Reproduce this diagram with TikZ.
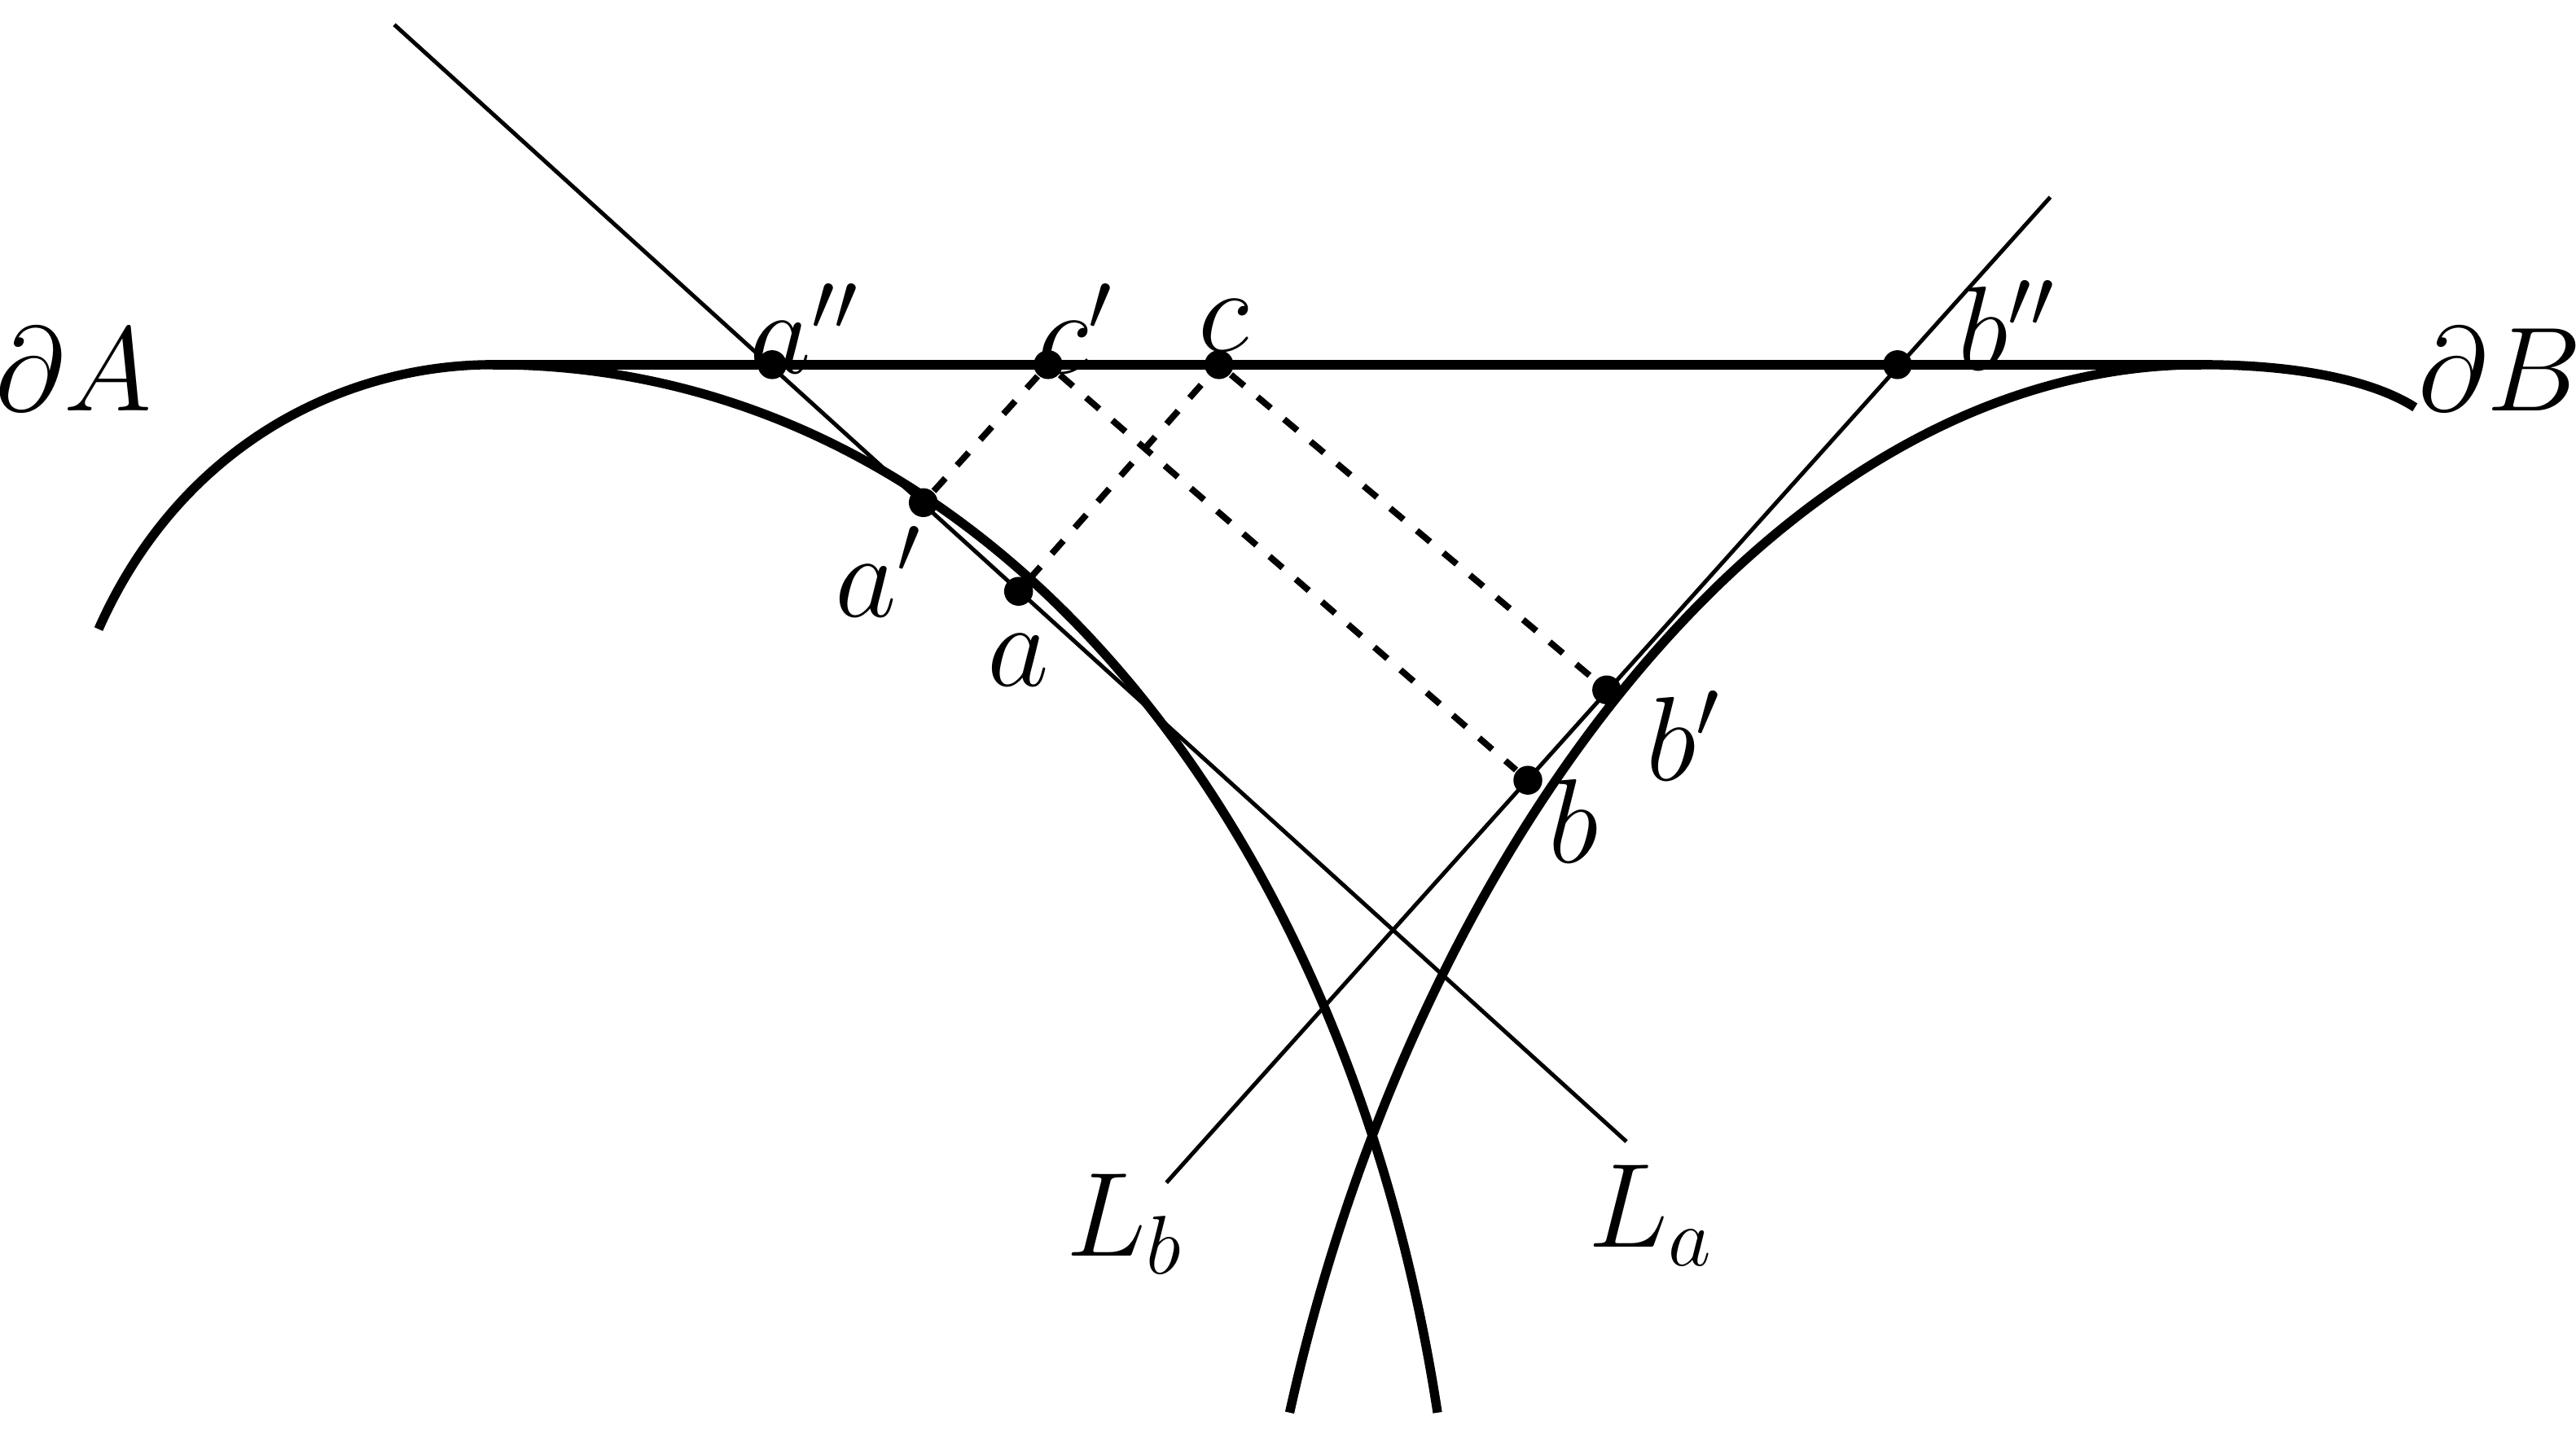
\documentclass[tikz,border=0pt]{standalone}
\begin{document}
\begin{tikzpicture}[x=0.01cm,y=-0.01cm,
  bd/.style={line width=1.6pt},
  thin line/.style={line width=0.7pt},
  dsh/.style={dashed,line width=1.1pt},
  pt/.style={circle,fill=black,inner sep=0pt,minimum size=5pt},
  lbl/.style={font=\fontsize{22}{24}\selectfont\itshape}]
\useasboundingbox (0,0) rectangle (1568,875);
% boundaries
\draw[bd] (60,383) .. controls (110,270) and (210,222) .. (300,222)
  .. controls (600,222) and (820,500) .. (875,860);
\draw[bd] (1470,248) .. controls (1445,232) and (1400,222) .. (1340,222)
  .. controls (1080,222) and (860,520) .. (785,860);
\draw[bd] (300,222) -- (1340,222);
% points
\node[pt] (app) at (470,222) {};
\node[pt] (cp) at (638,222) {};
\node[pt] (c) at (742,222) {};
\node[pt] (bpp) at (1155,222) {};
\node[pt] (ap) at (562,306) {};
\node[pt] (a) at (620,360) {};
\node[pt] (bp) at (978,420) {};
\node[pt] (b) at (930,475) {};
\coordinate (La1) at (240,15);
\coordinate (La2) at (990,695);
\coordinate (Lb1) at (1248,120);
\coordinate (Lb2) at (710,720);
\draw[thin line] (La1) -- (La2);
\draw[thin line] (Lb1) -- (Lb2);
\draw[dsh] (ap) -- (cp) -- (b);
\draw[dsh] (a) -- (c) -- (bp);
% labels
\node[lbl] (lA) at (45,225) {$\partial A$};
\node[lbl] (lB) at (1522,225) {$\partial B$};
\node[lbl] (lapp) at (490,200) {$a''$};
\node[lbl] (lcp) at (655,200) {$c'$};
\node[lbl] (lc) at (745,198) {$c$};
\node[lbl] (lbpp) at (1222,198) {$b''$};
\node[lbl] (lap) at (535,348) {$a'$};
\node[lbl] (la) at (620,402) {$a$};
\node[lbl] (lbp) at (1025,448) {$b'$};
\node[lbl] (lb) at (958,500) {$b$};
\node[lbl] (lLb) at (685,745) {$L_b$};
\node[lbl] (lLa) at (1005,740) {$L_a$};
\end{tikzpicture}
\end{document}
